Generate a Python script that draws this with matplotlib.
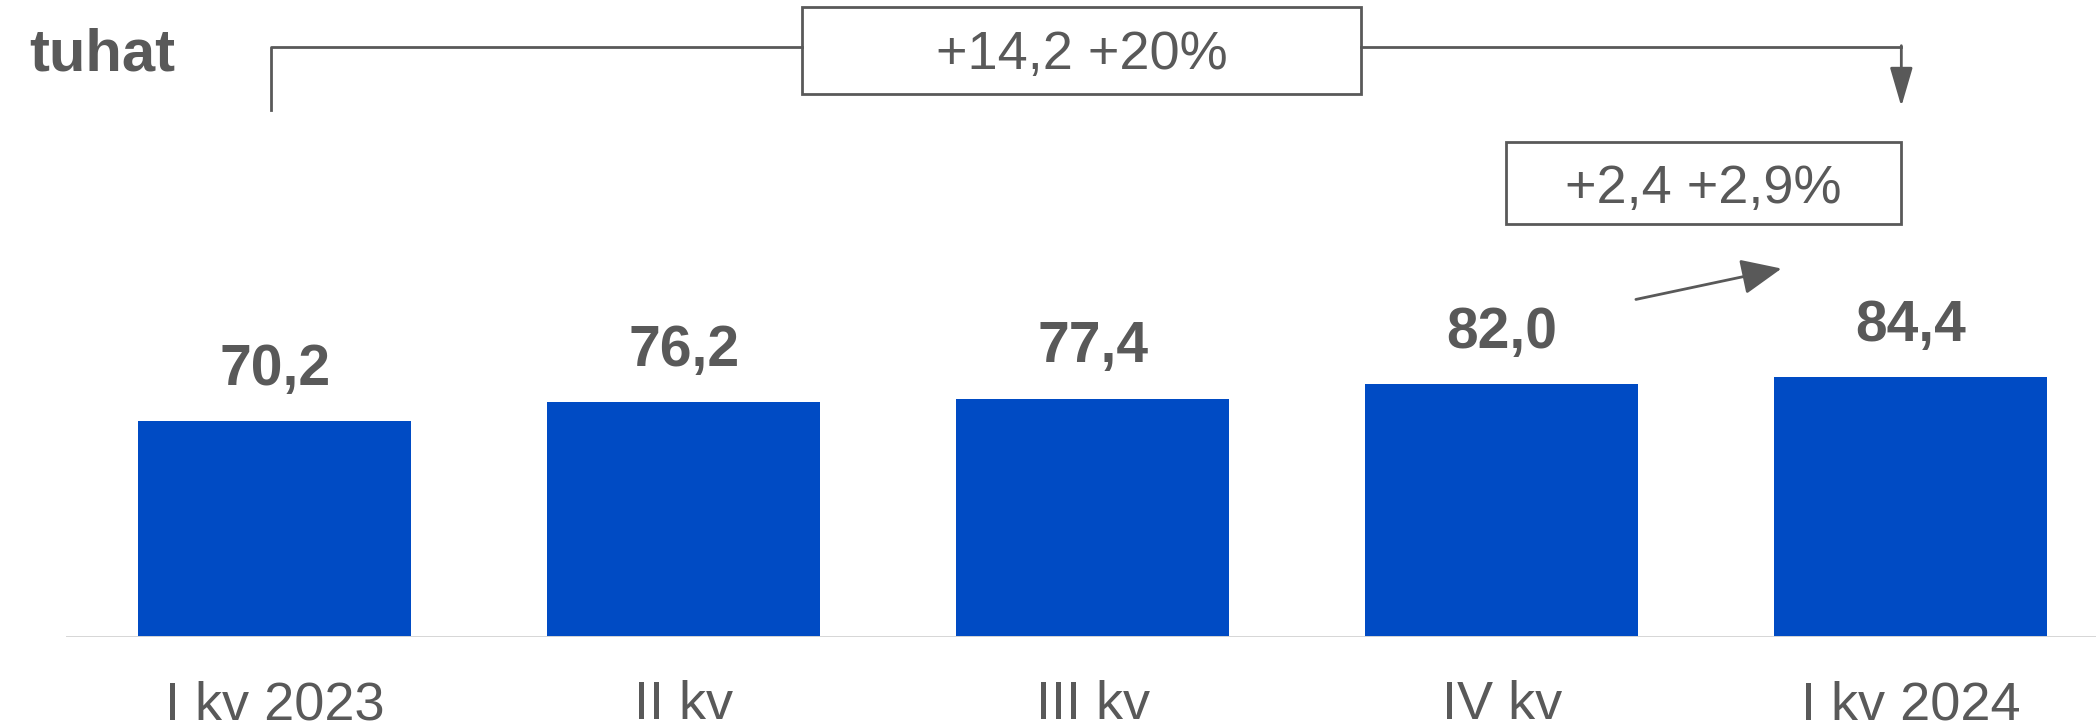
import matplotlib
matplotlib.use("Agg")
import matplotlib.pyplot as plt

plt.rcParams['font.family'] = ['Liberation Sans', 'DejaVu Sans']

# data
categories = ['I kv 2023', 'II kv', 'III kv', 'IV kv', 'I kv 2024']
values = [70.2, 76.2, 77.4, 82.0, 84.4]
value_labels = ['70,2', '76,2', '77,4', '82,0', '84,4']
total_change = '+14,2 +20%'
last_change = '+2,4 +2,9%'

bar_color = '#004BC4'
gray = '#595959'

fig = plt.figure(figsize=(20.96, 7.27), dpi=100)
ax = fig.add_axes([0, 0.1232, 1, 0.8768])
x = list(range(len(categories)))

ax.bar(x, values, width=0.667, color=bar_color, zorder=2)
ax.axhline(-0.4, xmin=0.033, xmax=1, color='#d6d6d6', lw=5, zorder=3)

for xi, v, lab in zip(x, values, value_labels):
    ax.annotate(lab, (xi, v), xytext=(0, 26), textcoords='offset points',
                ha='center', va='baseline', fontsize=41, fontweight='bold', color=gray)

ax.set_xlim(-0.672, 4.453)
ax.set_ylim(0, 206.5)
ax.set_xticks(x)
ax.set_xticklabels(categories, fontsize=39, color=gray)
ax.tick_params(axis='x', length=0, pad=31)
ax.set_yticks([])
for s in ax.spines.values():
    s.set_visible(False)

# bracket from first to last quarter
top_y = 191.3
box_left, box_right = 1.289, 2.655
ax.plot([-0.01, -0.01, box_left], [171, top_y, top_y], color=gray, lw=2, clip_on=False)
ax.plot([box_right, 3.977], [top_y, top_y], color=gray, lw=2, clip_on=False)
ax.annotate('', xy=(3.977, 172), xytext=(3.977, top_y + 0.4),
            arrowprops=dict(arrowstyle='-|>,head_length=1.2,head_width=0.35',
                            mutation_scale=20, color=gray, lw=2, shrinkA=0, shrinkB=0))
ax.text((box_left + box_right) / 2, 188.6, total_change, ha='center', va='center',
        fontsize=39, color=gray)
ax.add_patch(plt.Rectangle((box_left, 176.2), box_right - box_left, 28.1,
                           fill=False, ec=gray, lw=2, clip_on=False))

# last quarter change
ax.add_patch(plt.Rectangle((3.011, 133.8), 3.975 - 3.011, 26.8,
                           fill=False, ec=gray, lw=2, clip_on=False))
ax.text((3.011 + 3.975) / 2, 145.4, last_change, ha='center', va='center',
        fontsize=39, color=gray)
ax.annotate('', xy=(3.684, 119.5), xytext=(3.328, 109.5),
            arrowprops=dict(arrowstyle='-|>,head_length=1.25,head_width=0.55',
                            mutation_scale=20, color=gray, lw=2, shrinkA=0, shrinkB=0))

fig.text(0.014, 0.903, 'tuhat', fontsize=43, fontweight='bold', color=gray, va='baseline')

fig.savefig('out.png', dpi=100)
